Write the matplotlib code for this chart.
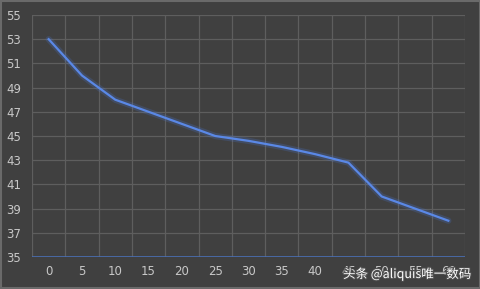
import matplotlib.pyplot as plt
import matplotlib.patheffects as pe
from matplotlib.patches import Rectangle

# Data
cats = ['0', '5', '10', '15', '20', '25', '30', '35', '40', '45', '50', '55', '60']
values = [53, 50, 48, 47, 46, 45, 44.6, 44.1, 43.5, 42.8, 40, 39, 38]
yticks = [35, 37, 39, 41, 43, 45, 47, 49, 51, 53, 55]

bg = '#404040'
fig = plt.figure(figsize=(4.81, 2.89), dpi=100, facecolor=bg)
ax = fig.add_axes([32/481, 32/289, 433/481, 242/289], facecolor=bg)

x = list(range(len(cats)))
ax.plot(x, values, color='#4a78d8', lw=4.5, alpha=0.22, solid_capstyle='round')
ax.plot(x, values, color='#5a88e6', lw=1.6, solid_joinstyle='round')

ax.set_xlim(-0.5, len(cats) - 0.5)
ax.set_ylim(35, 55)
ax.set_yticks(yticks)
ax.set_xticks(x)
ax.set_xticklabels(cats)

# grid: horizontal at ticks, vertical at category boundaries
for yv in yticks[1:]:
    ax.axhline(yv, color='#5e5e5e', lw=0.9, zorder=0)
for i in range(len(cats) + 1):
    ax.axvline(i - 0.5, color='#5e5e5e', lw=0.9, zorder=0)
ax.axhline(35, color='#4a6fb5', lw=1.2, zorder=1)

for s in ax.spines.values():
    s.set_visible(False)
ax.tick_params(length=0, colors='#c8c8c8', labelsize=8.5)
ax.tick_params(axis='y', pad=8)
ax.tick_params(axis='x', pad=6)

# outer border
fig.patches.append(Rectangle((0.002, 0.003), 0.996, 0.994, transform=fig.transFigure,
                             fill=False, edgecolor='#6a6a6a', lw=1.5))

# watermark (overlaps the last tick labels, as in the source image)
fig.text(343/481, 1 - 274/289, '头条 @aliquis唯一数码', color='white', fontsize=9,
         va='center', ha='left', family=['Noto Sans CJK SC', 'DejaVu Sans'],
         path_effects=[pe.withStroke(linewidth=1.5, foreground='#505050')])

fig.savefig('out.png', dpi=100, facecolor=bg)
